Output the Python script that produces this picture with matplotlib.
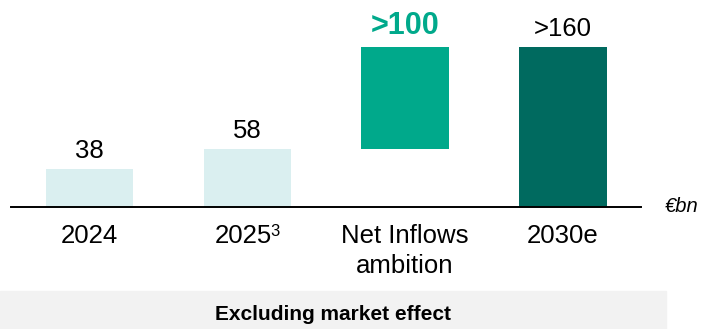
import matplotlib
matplotlib.use("Agg")
import matplotlib.pyplot as plt
from matplotlib.patches import Rectangle

plt.rcParams['font.family'] = ['Liberation Sans', 'DejaVu Sans']

# net inflows, €bn
categories = ["2024", "2025", "Net Inflows\nambition", "2030e"]
footnotes = ["", "3", "", ""]
values = [38, 58, 160]           # 2024, 2025, 2030e totals
ambition_start = 58              # floating bar runs from the 2025 level...
ambition_end = 160               # ...up to the 2030e level
value_labels = ["38", "58", ">100", ">160"]

light = "#daeff0"
green = "#00a98b"
dark = "#006a5f"

W, H = 701, 329
fig = plt.figure(figsize=(W / 100, H / 100), dpi=100)
ax = fig.add_axes([0, 0, 1, 1])

# 1 data unit = 1 pixel vertically, category spacing ~158 px
step = 157.8
x0 = 89.5
ax.set_xlim((0 - x0) / step, (W - x0) / step)
ax.set_ylim(207 - H, 207)
ax.axis("off")

bw = 87.5 / step
ax.bar(0, values[0], width=bw, color=light)
ax.bar(1, values[1], width=bw, color=light)
ax.bar(2, ambition_end - ambition_start, bottom=ambition_start, width=bw, color=green)
ax.bar(3, values[2], width=bw, color=dark)

ax.plot([(11 - x0) / step, (641 - x0) / step], [0, 0], color="black", lw=1.4)

tops = [values[0], values[1], ambition_end, values[2]]
for i, (t, lab) in enumerate(zip(tops, value_labels)):
    if i == 2:
        ax.text(i, t + 13, lab, ha="center", va="baseline", fontsize=22,
                fontweight="bold", color=green)
    else:
        ax.text(i, t + 11, lab, ha="center", va="baseline", fontsize=18.5,
                color="black")

renderer = fig.canvas.get_renderer()
for i, (cat, fn) in enumerate(zip(categories, footnotes)):
    for j, line in enumerate(cat.split("\n")):
        if fn and j == 0:
            # main label + small superscript, centred together
            sup = ax.text(0, -29.5, fn, ha="left", va="baseline",
                          fontsize=12, color="black")
            main = ax.text(0, -36, line, ha="left", va="baseline",
                           fontsize=18.5, color="black")
            mw = main.get_window_extent(renderer).width - 1
            sw = sup.get_window_extent(renderer).width
            left = i - (mw + sw) / 2 / step
            main.set_x(left)
            sup.set_x(left + mw / step)
        else:
            ax.text(i, -36 - 30 * j, line, ha="center", va="baseline",
                    fontsize=18.5, color="black")

ax.text((665 - x0) / step, -5, "€bn", ha="left", va="baseline",
        fontsize=14.5, style="italic", color="black")

# footer band
fig.patches.append(Rectangle((0, 0), 666 / W, (H - 291) / H,
                             transform=fig.transFigure, color="#f2f2f2",
                             zorder=0))
fig.text(333 / W, (H - 320) / H, "Excluding market effect", ha="center",
         va="baseline", fontsize=15, fontweight="bold", color="black")

fig.savefig("out.png", dpi=100)
